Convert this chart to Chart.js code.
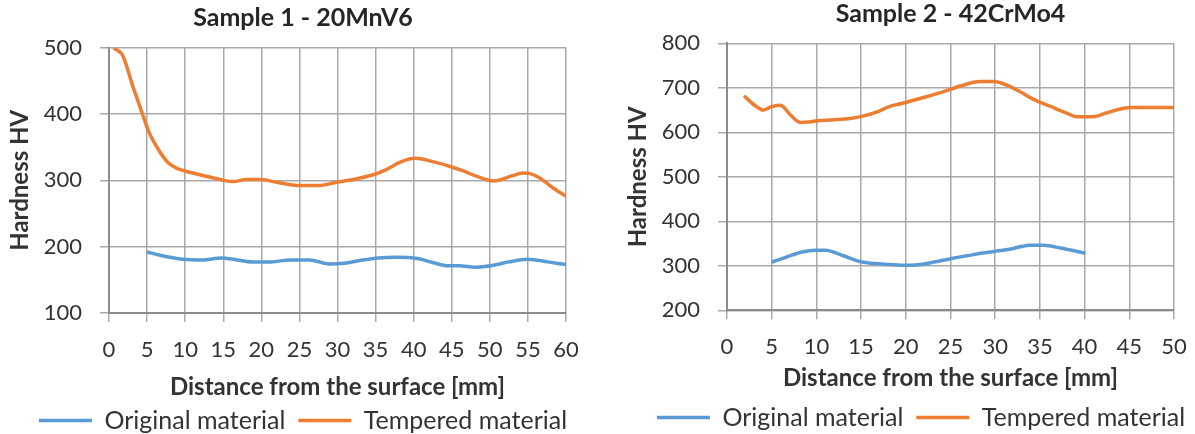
<!DOCTYPE html>
<html>
<head>
<meta charset="utf-8">
<script src="https://cdn.jsdelivr.net/npm/chart.js@4.4.1/dist/chart.umd.min.js"></script>
<style>
html,body{margin:0;padding:0;overflow:hidden;background:#fff;width:1195px;height:434px;}
canvas{position:absolute;top:0;}
#chart1{left:0;}
#chart2{left:618px;}
</style>
</head>
<body>
<canvas id="chart1" width="606" height="443"></canvas>
<canvas id="chart2" width="606" height="440"></canvas>
<script>

// Sample 1 - 20MnV6
let s1OrigX = [5, 6.7, 9.7, 12.2, 14.8, 16.8, 18.8, 21.3, 23.8, 26.3, 28.9, 30.9, 32.9, 35.4, 37.9, 40.5, 42.5, 44.5, 46, 48, 50.5, 52.5, 55, 57.6, 60];
let s1OrigY = [192, 187, 181, 180, 183, 180, 177, 177, 180, 180, 174, 175, 179, 183, 184, 182, 176, 171, 171, 169, 172, 177, 181, 177, 173];
let s1TempX = [0.6, 1.7, 2.2, 3.0, 3.6, 4.5, 5.3, 6.5, 7.8, 9.1, 10.6, 13.2, 16.3, 18, 20, 22, 25, 27.4, 29.9, 32.4, 34.9, 36.4, 38.4, 40.2, 42.5, 45, 46.5, 48.5, 50.5, 53, 54.3, 55.3, 56.6, 58.6, 60];
let s1TempY = [499, 490, 476, 446, 426, 396, 371, 346, 326, 317, 312, 305, 298, 301, 301, 297, 292, 292, 297, 302, 309, 316, 328, 333, 328, 320, 314, 305, 299, 307, 311, 310, 303, 286, 276];

// Sample 2 - 42CrMo4
let s2OrigX = [5, 6.7, 8.4, 9.9, 11, 13.1, 15, 16.5, 18.2, 19.9, 21.6, 23.3, 25, 26.7, 28.4, 30.1, 31.6, 33.1, 33.9, 35.4, 37.3, 40.1];
let s2OrigY = [308, 320, 331, 335, 335, 322, 309, 305, 303, 301, 303, 309, 316, 322, 328, 333, 337, 344, 346, 346, 340, 328];
let s2TempX = [1.9, 3.2, 4.1, 4.8, 5.8, 6.2, 7.1, 8.2, 9, 10.1, 11.9, 13.8, 15.3, 16.8, 18.3, 19.4, 21.6, 23.9, 26.1, 28.3, 29.8, 31.3, 32.8, 34.3, 36.2, 38, 39.1, 41, 42.5, 44.4, 45.1, 50];
let s2TempY = [682, 659, 650, 656, 661, 659, 639, 622, 623, 626, 628, 631, 637, 646, 659, 664, 676, 689, 704, 714, 714, 706, 691, 674, 658, 643, 635, 635, 644, 654, 656, 656];

let seriesNames = ["Original material", "Tempered material"];
let xTitle = "Distance from the surface [mm]";
let yTitle = "Hardness HV";

const FONT = "Lato, 'Liberation Sans', sans-serif";
const TEXT = "#333333";
const GRID = "#a9a9a9";
const AXIS = "#8c8c8c";
const BLUE = "#5b9bd5";
const ORANGE = "#ed7d31";

function points(xs, ys){
return xs.map((x,i)=>({x:x, y:ys[i]}));
}

function line(label, color, data){
return {
label:label,
data:data,
borderColor:color,
backgroundColor:color,
borderWidth:3.5,
pointRadius:0,
tension:0.4,
cubicInterpolationMode:"monotone",
fill:false
};
}

function drawSample(id, title, xMax, yMin, yMax, orig, temp, lay){

const ctx = document.getElementById(id).getContext("2d");

return new Chart(ctx,{
type:"line",
data:{
datasets:[
line(seriesNames[0], BLUE, orig),
line(seriesNames[1], ORANGE, temp)
]
},
options:{
responsive:false,
animation:false,
layout:{padding:0},
plugins:{
title:{
display:true,
text:title,
color:"#262626",
fullSize:lay.titleFull,
font:{family:FONT, size:25, weight:"bold", lineHeight:1.2},
padding:{top:lay.titleTop, bottom:lay.titleBottom}
},
legend:{
position:"bottom",
labels:{
color:TEXT,
font:{family:FONT, size:25},
usePointStyle:true,
pointStyle:"line",
pointStyleWidth:53,
padding:13
}
},
tooltip:{enabled:false}
},
scales:{
x:{
type:"linear",
min:0,
max:xMax,
ticks:{stepSize:5, color:TEXT, font:{family:FONT, size:22}, padding:lay.xTickPad},
grid:{color:GRID, lineWidth:1.5, tickLength:9},
border:{color:AXIS, width:2},
title:{
display:true,
text:xTitle,
color:TEXT,
font:{family:FONT, size:24, weight:"bold"},
padding:{top:lay.xTitleTop, bottom:lay.xTitleBottom}
}
},
y:{
min:yMin,
max:yMax,
ticks:{stepSize:100, color:TEXT, font:{family:FONT, size:22}, padding:18},
grid:{color:GRID, lineWidth:1.5, tickLength:9},
border:{color:AXIS, width:2},
title:{
display:true,
text:yTitle,
color:TEXT,
font:{family:FONT, size:24, weight:"bold"},
padding:{top:5.6, bottom:0}
},
afterFit:function(scale){ scale.width = 109; }
},
// empty strip on the right so the plot ends where the reference does
spacer:{
position:"right",
display:true,
ticks:{display:false},
grid:{display:false},
border:{display:false},
afterFit:function(scale){ scale.width = lay.rightGap; }
}
}
}
});

}

drawSample("chart1", "Sample 1 - 20MnV6", 60, 100, 500,
points(s1OrigX, s1OrigY), points(s1TempX, s1TempY),
{rightGap:40, titleFull:true,
titleTop:3, titleBottom:14.5, xTickPad:14.8, xTitleTop:-5.4, xTitleBottom:-6.4});

drawSample("chart2", "Sample 2 - 42CrMo4", 50, 200, 800,
points(s2OrigX, s2OrigY), points(s2TempX, s2TempY),
{rightGap:50, titleFull:false,
titleTop:-1.5, titleBottom:14.8, xTickPad:14.5, xTitleTop:-11.1, xTitleBottom:-0.4});

</script>
</body>
</html>
